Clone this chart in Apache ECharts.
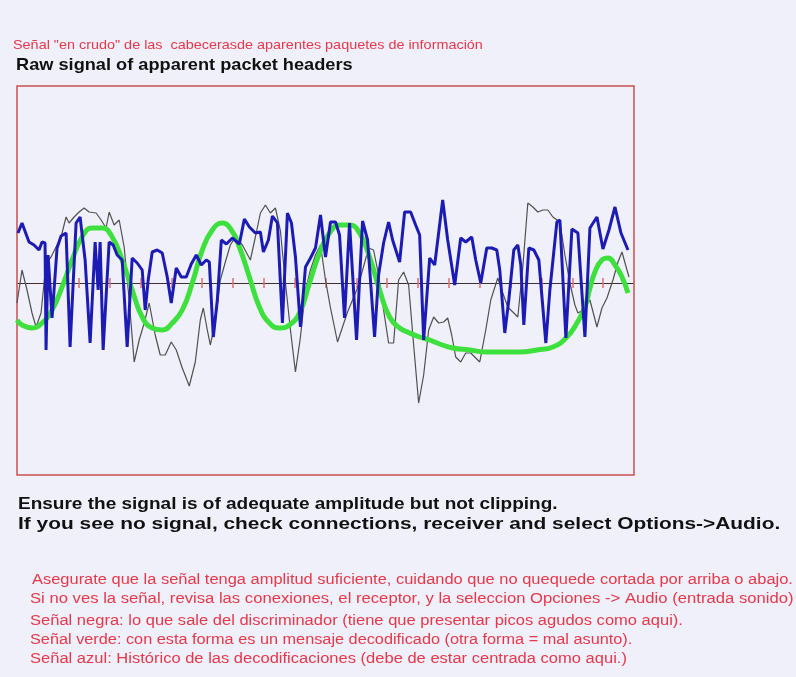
<!DOCTYPE html>
<html>
<head>
<meta charset="utf-8">
<script src="https://cdn.jsdelivr.net/npm/echarts@6/dist/echarts.min.js"></script>
<style>
html,body{margin:0;padding:0;background:#f0f0fa;}
#chart{width:796px;height:677px;}
</style>
</head>
<body>
<div id="chart"></div>
<script>
// Sample index (x) and amplitude (y)
const blueSignal = [[1,50],[5,60],[12,41],[17,38],[22,33],[25,41],[28,40],[29,-67],[31,28],[35,-35],[40,35],[44,47],[49,50],[53,-64],[59,60],[63,66],[68,23],[73,-60],[78,41],[81,-7],[83,41],[86,-67],[92,41],[96,38],[100,28],[105,23],[110,-64],[115,25],[120,20],[125,13],[128,-27],[131,3],[135,31],[140,33],[145,30],[150,6],[154,-20],[159,15],[164,6],[169,6],[174,19],[179,28],[184,18],[189,23],[192,21],[196,-54],[200,-17],[204,43],[209,39],[215,45],[222,39],[227,64],[232,56],[238,50],[243,51],[246,31],[251,43],[255,67],[260,60],[265,-40],[270,70],[274,60],[278,26],[283,-44],[288,16],[293,25],[298,35],[303,68],[308,26],[313,61],[318,61],[322,48],[327,-35],[332,60],[339,-57],[345,62],[350,43],[357,-54],[361,8],[366,40],[371,61],[375,43],[382,21],[387,71],[393,71],[398,58],[402,48],[406,-57],[412,25],[417,18],[425,83],[430,43],[437,-2],[443,45],[448,41],[454,46],[458,23],[463,0],[469,35],[474,35],[479,33],[482,13],[487,-50],[491,-17],[496,33],[500,38],[503,18],[506,-42],[511,35],[516,33],[521,23],[528,-60],[532,-7],[539,61],[542,63],[548,-55],[554,54],[560,50],[567,-54],[572,55],[579,66],[585,34],[591,53],[597,76],[603,50],[610,33]];
const blackSignal = [[0,-20],[5,13],[10,-7],[15,-30],[19,-44],[24,-30],[29,20],[34,26],[39,36],[44,46],[49,66],[52,60],[57,66],[62,71],[67,75],[72,71],[79,70],[84,63],[89,55],[92,71],[97,58],[102,63],[107,36],[112,-17],[117,-79],[122,-57],[127,-40],[132,-20],[138,-52],[143,-72],[148,-72],[154,-59],[159,-67],[165,-85],[172,-103],[178,-79],[183,-37],[186,-25],[190,-47],[193,-62],[198,-39],[203,3],[208,21],[213,38],[218,46],[225,38],[233,23],[238,46],[243,70],[248,78],[253,70],[258,75],[263,52],[268,0],[273,-47],[278,-89],[283,-54],[288,-7],[293,13],[298,28],[303,38],[308,3],[313,-25],[320,-59],[325,-44],[330,-29],[335,-17],[340,-5],[347,20],[351,35],[356,33],[361,8],[366,-27],[371,-60],[376,-60],[381,3],[386,11],[391,-2],[396,-62],[401,-120],[406,-92],[411,-47],[416,-34],[421,-40],[426,-39],[430,-35],[434,-52],[438,-74],[443,-79],[448,-70],[453,-70],[458,-75],[462,-79],[468,-47],[473,-17],[480,5],[485,-10],[490,-24],[495,-29],[500,-34],[505,16],[510,80],[515,76],[520,71],[525,73],[530,73],[535,66],[542,61],[547,28],[552,0],[557,-22],[560,-30],[565,-27],[572,-17],[579,-44],[584,-25],[589,-15],[595,3],[600,21],[604,31],[609,13],[611,6]];
const greenSignal = [[0,-37],[5,-42],[15,-45],[25,-40],[35,-27],[45,-4],[55,23],[65,46],[75,55],[85,55],[95,46],[105,23],[115,-7],[125,-34],[135,-45],[145,-47],[155,-40],[165,-27],[175,0],[185,33],[195,53],[205,60],[214,53],[222,36],[232,6],[242,-24],[252,-40],[262,-45],[272,-42],[282,-30],[292,0],[302,30],[312,50],[322,58],[332,58],[342,50],[352,26],[362,-7],[372,-34],[382,-45],[392,-50],[402,-54],[412,-57],[422,-61],[435,-65],[452,-67],[469,-69],[485,-69],[502,-69],[519,-67],[535,-64],[549,-54],[559,-40],[567,-24],[572,-5],[577,11],[584,23],[590,25],[597,18],[604,6],[610,-10]];

const xMin = 0, xMax = 616, tickStep = 30.8;
const yMin = -192, yMax = 197;

const titleEs = 'Señal "en crudo" de las  cabecerasde aparentes paquetes de información';
const titleEn = 'Raw signal of apparent packet headers';
const noteEn = ['Ensure the signal is of adequate amplitude but not clipping.',
  'If you see no signal, check connections, receiver and select Options->Audio.'];
const noteEs = ['Asegurate que la señal tenga amplitud suficiente, cuidando que no quequede cortada por arriba o abajo.',
  'Si no ves la señal, revisa las conexiones, el receptor, y la seleccion Opciones -> Audio (entrada sonido)'];
const legendEs = ['Señal negra: lo que sale del discriminador (tiene que presentar picos agudos como aqui).',
  'Señal verde: con esta forma es un mensaje decodificado (otra forma = mal asunto).',
  'Señal azul: Histórico de las decodificaciones (debe de estar centrada como aqui.)'];

const RED = '#e5384a';
const FONT = '"Liberation Sans", Arial, sans-serif';

function txt(text, x, y, size, weight, color, sx) {
  return {type:'text', x:x, y:y, scaleX: sx || 1, silent:true,
    style:{text:text, fill:color, fontSize:size, fontWeight:weight, fontFamily:FONT, verticalAlign:'middle', align:'left'}};
}

const chart = echarts.init(document.getElementById('chart'), null, {renderer:'canvas'});
const axBase = {type:'value', min:xMin, max:xMax, interval:tickStep,
  axisLabel:{show:false}, splitLine:{show:false}};
chart.setOption({
  backgroundColor:'#f0f0fa',
  animation:false,
  grid:{left:17, top:86, width:617, height:389, show:true, borderColor:'#c85050', borderWidth:1.5, backgroundColor:'transparent'},
  xAxis:[
    Object.assign({}, axBase, {position:'bottom',
      axisLine:{show:true, onZero:true, onZeroAxisIndex:0, lineStyle:{color:'#3a3030', width:1.2}},
      axisTick:{show:true, inside:false, length:5, lineStyle:{color:'#dd7070', width:1.5}}}),
    Object.assign({}, axBase, {position:'top',
      axisLine:{show:false, onZero:true, onZeroAxisIndex:0},
      axisTick:{show:true, inside:false, length:5, lineStyle:{color:'#dd7070', width:1.5}}})
  ],
  yAxis:{type:'value', min:yMin, max:yMax, show:false, splitLine:{show:false}},
  series:[
    {type:'line', data:blackSignal, showSymbol:false, lineStyle:{color:'#505050', width:1.2}, z:3},
    {type:'line', data:greenSignal, showSymbol:false, smooth:0.5, lineStyle:{color:'#3ee03e', width:5}, z:4},
    {type:'line', data:blueSignal, showSymbol:false, lineStyle:{color:'#1c1cb4', width:3}, z:5}
  ],
  graphic:[
    txt(titleEs, 13, 45, 13, 'normal', RED, 1.108),
    txt(titleEn, 16, 65, 17, 'bold', '#111', 1.07),
    txt(noteEn[0], 18, 504, 17, 'bold', '#111', 1.118),
    txt(noteEn[1], 18, 524, 17, 'bold', '#111', 1.229),
    txt(noteEs[0], 32, 580, 14, 'normal', RED, 1.175),
    txt(noteEs[1], 30, 599, 14, 'normal', RED, 1.19),
    txt(legendEs[0], 30, 621, 14, 'normal', RED, 1.18),
    txt(legendEs[1], 30, 640, 14, 'normal', RED, 1.163),
    txt(legendEs[2], 30, 659, 14, 'normal', RED, 1.18)
  ]
});
</script>
</body>
</html>
